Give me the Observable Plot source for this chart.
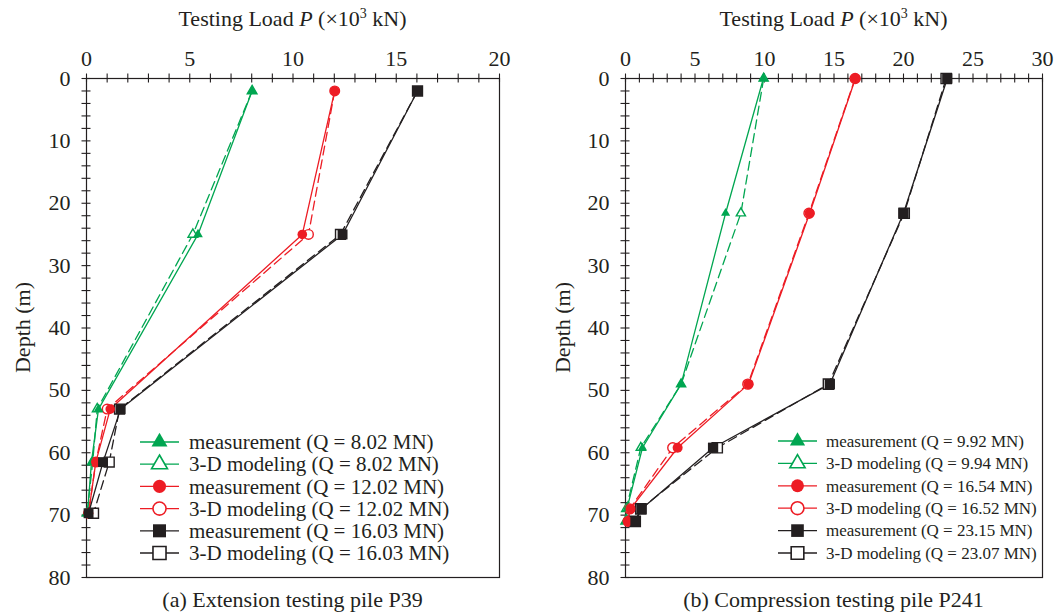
<!DOCTYPE html>
<html>
<head>
<meta charset="utf-8">
<script src="https://cdn.jsdelivr.net/npm/d3@7"></script>
<script src="https://cdn.jsdelivr.net/npm/@observablehq/plot@0.6"></script>
<style>
  html, body { margin: 0; padding: 0; background: #fff; }
  #root { position: relative; width: 1056px; height: 614px; overflow: hidden; font-family: "Liberation Serif", "Times New Roman", serif; color: #231f20; }
  .panel { position: absolute; top: 0; }
  .caption { position: absolute; top: 588px; font-size: 22px; line-height: 24px; text-align: center; white-space: nowrap; }
</style>
</head>
<body>
<div id="root"></div>
<script>
// ---------- Data: panel (a) Extension testing pile P39 ----------
const depthA = [2, 25, 53, 61.5, 69.7];
const aMeas8 = [8.02, 5.4, 0.58, 0.24, 0.05];
const aModel8 = [8.02, 5.15, 0.52, 0.3, 0.03];
const aMeas12 = [12.02, 10.45, 1.15, 0.45, 0.1];
const aModel12 = [12.02, 10.75, 1.0, 0.45, 0.1];
const aMeas16 = [16.03, 12.4, 1.65, 0.8, 0.1];
const aModel16 = [16.03, 12.3, 1.6, 1.1, 0.34];
const aLegend = [
  "measurement (Q = 8.02 MN)", "3-D modeling (Q = 8.02 MN)",
  "measurement (Q = 12.02 MN)", "3-D modeling (Q = 12.02 MN)",
  "measurement (Q = 16.03 MN)", "3-D modeling (Q = 16.03 MN)"
];

// ---------- Data: panel (b) Compression testing pile P241 ----------
const depthB = [0, 21.6, 49, 59.2, 69, 71];
const bMeas992 = [9.92, 7.2, 4.0, 1.22, 0.1, 0.0];
const bModel994 = [9.94, 8.3, 4.0, 1.1, 0.05, 0.0];
const bMeas1654 = [16.54, 13.25, 8.85, 3.75, 0.36, 0.15];
const bModel1652 = [16.52, 13.2, 8.8, 3.4, 0.3, 0.2];
const bMeas2315 = [23.15, 20.0, 14.7, 6.3, 1.15, 0.72];
const bModel2307 = [23.07, 20.05, 14.6, 6.6, 1.1, 0.7];
const bLegend = [
  "measurement (Q = 9.92 MN)", "3-D modeling (Q = 9.94 MN)",
  "measurement (Q = 16.54 MN)", "3-D modeling (Q = 16.52 MN)",
  "measurement (Q = 23.15 MN)", "3-D modeling (Q = 23.07 MN)"
];

const groups = ["low", "mid", "high"];
const groupColors = ["#00a651", "#ed1c24", "#231f20"];
const groupSymbols = ["triangle", "circle", "square"];
const captionA = "(a) Extension testing pile P39";
const captionB = "(b) Compression testing pile P241";
const xTitle = ["Testing Load ", "P", " (\u00d710", "3", " kN)"];
const yTitle = "Depth (m)";

function rows(depths, series) {
  const out = [];
  for (const s of series) s.values.forEach((v, i) => out.push({group: s.group, kind: s.kind, depth: depths[i], load: v}));
  return out;
}

const ink = "#231f20";
const W = 528, H = 590, MT = 78, MB = 13;

function panel(cfg) {
  const data = rows(cfg.depths, cfg.series);
  const meas = data.filter(d => d.kind === "meas");
  const model = data.filter(d => d.kind === "model");
  const plotW = W - cfg.ml - cfg.mr, plotH = H - MT - MB;
  const dotMarks = [];
  for (const kind of ["model", "meas"]) {
    groups.forEach((g, gi) => {
      const sub = data.filter(d => d.kind === kind && d.group === g);
      dotMarks.push(Plot.dot(sub, {
        x: "load", y: "depth", symbol: groupSymbols[gi], r: cfg.r[gi],
        fill: kind === "meas" ? groupColors[gi] : "white",
        stroke: kind === "meas" ? "none" : groupColors[gi], strokeWidth: 1.4
      }));
    });
  }
  const svg = Plot.plot({
    width: W, height: H,
    marginLeft: cfg.ml, marginRight: cfg.mr, marginTop: MT, marginBottom: MB,
    style: {fontFamily: "'Liberation Serif', 'Times New Roman', serif", fontSize: "22px", color: ink, background: "white", overflow: "visible"},
    x: {domain: [0, cfg.xmax]},
    y: {domain: [0, 80], reverse: true},
    color: {domain: groups, range: groupColors},
    marks: [
      Plot.frame({stroke: ink, strokeWidth: 1.2}),
      Plot.axisX({anchor: "top", ticks: d3.range(0, cfg.xmax + 1, 5), tickSize: 0, tickPadding: 13, label: null, fontSize: 22}),
      Plot.axisY({anchor: "left", ticks: d3.range(0, 81, 10), tickSize: 0, tickPadding: 16, label: null, fontSize: 22}),
      Plot.tickX(d3.range(0, cfg.xmax + 1), {x: d => d, stroke: ink, strokeWidth: 1.1, insetTop: -4.5, insetBottom: plotH - 4.5}),
      Plot.tickY(d3.range(0, 81, 2), {y: d => d, stroke: ink, strokeWidth: 1.1, insetLeft: -4.5, insetRight: plotW - 4.5}),
      Plot.line(model, {x: "load", y: "depth", z: "group", stroke: "group", strokeWidth: 1.3, strokeDasharray: "9,5"}),
      Plot.line(meas, {x: "load", y: "depth", z: "group", stroke: "group", strokeWidth: 1.3}),
      ...dotMarks
    ]
  });
  const s = d3.select(svg);
  // axis title with italic P and superscript
  const cx = cfg.ml + plotW / 2;
  const t = s.append("text").attr("x", cx).attr("y", 26).attr("text-anchor", "middle")
    .attr("font-size", 22).attr("fill", ink);
  t.append("tspan").text(xTitle[0]);
  t.append("tspan").attr("font-style", "italic").text(xTitle[1]);
  t.append("tspan").text(xTitle[2]);
  t.append("tspan").attr("font-size", 14).attr("dy", -8).text(xTitle[3]);
  t.append("tspan").attr("dy", 8).text(xTitle[4]);
  s.append("text").attr("transform", `translate(${cfg.yLabelX},${MT + plotH / 2}) rotate(-90)`)
    .attr("text-anchor", "middle").attr("dy", "0.35em").attr("font-size", 22).attr("fill", ink).text(yTitle);
  // legend
  const lg = cfg.legend;
  cfg.legendText.forEach((label, i) => {
    const gi = Math.floor(i / 2), isModel = i % 2 === 1;
    const y = lg.y0 + i * lg.dy;
    const col = groupColors[gi];
    s.append("line").attr("x1", lg.x1).attr("x2", lg.x2).attr("y1", y).attr("y2", y)
      .attr("stroke", col).attr("stroke-width", 1.3);
    const sym = [d3.symbolTriangle, d3.symbolCircle, d3.symbolSquare][gi];
    const size = lg.sizes[gi];
    s.append("path").attr("d", d3.symbol(sym, size)())
      .attr("transform", `translate(${(lg.x1 + lg.x2) / 2},${y})`)
      .attr("fill", isModel ? "white" : col).attr("stroke", isModel ? col : "none").attr("stroke-width", 1.6);
    s.append("text").attr("x", lg.tx).attr("y", y).attr("dy", "0.34em").attr("font-size", lg.fs)
      .attr("text-anchor", "start").attr("fill", ink).text(label);
  });
  return svg;
}

const root = document.getElementById("root");

function addPanel(left, cfg, caption) {
  const div = document.createElement("div");
  div.className = "panel";
  div.style.left = left + "px";
  div.appendChild(panel(cfg));
  root.appendChild(div);
  const cap = document.createElement("div");
  cap.className = "caption";
  const plotW = W - cfg.ml - cfg.mr;
  cap.style.left = (left + cfg.ml) + "px";
  cap.style.width = plotW + "px";
  cap.textContent = caption;
  root.appendChild(cap);
}

addPanel(0, {
  depths: depthA, xmax: 20, ml: 86, mr: 29, yLabelX: 22,
  r: [3.6, 4.8, 5.6],
  series: [
    {group: "low", kind: "model", values: aModel8}, {group: "low", kind: "meas", values: aMeas8},
    {group: "mid", kind: "model", values: aModel12}, {group: "mid", kind: "meas", values: aMeas12},
    {group: "high", kind: "model", values: aModel16}, {group: "high", kind: "meas", values: aMeas16}
  ],
  legendText: aLegend,
  legend: {x1: 140, x2: 179, tx: 189, y0: 442, dy: 22.2, fs: 21, sizes: [110, 135, 170]}
}, captionA);

addPanel(528, {
  depths: depthB, xmax: 30, ml: 97, mr: 14, yLabelX: 34,
  r: [3.4, 5, 5.8],
  series: [
    {group: "low", kind: "model", values: bModel994}, {group: "low", kind: "meas", values: bMeas992},
    {group: "mid", kind: "model", values: bModel1652}, {group: "mid", kind: "meas", values: bMeas1654},
    {group: "high", kind: "model", values: bModel2307}, {group: "high", kind: "meas", values: bMeas2315}
  ],
  legendText: bLegend,
  legend: {x1: 250, x2: 289, tx: 298, y0: 441, dy: 22.4, fs: 17, sizes: [100, 130, 160]}
}, captionB);
</script>
</body>
</html>
